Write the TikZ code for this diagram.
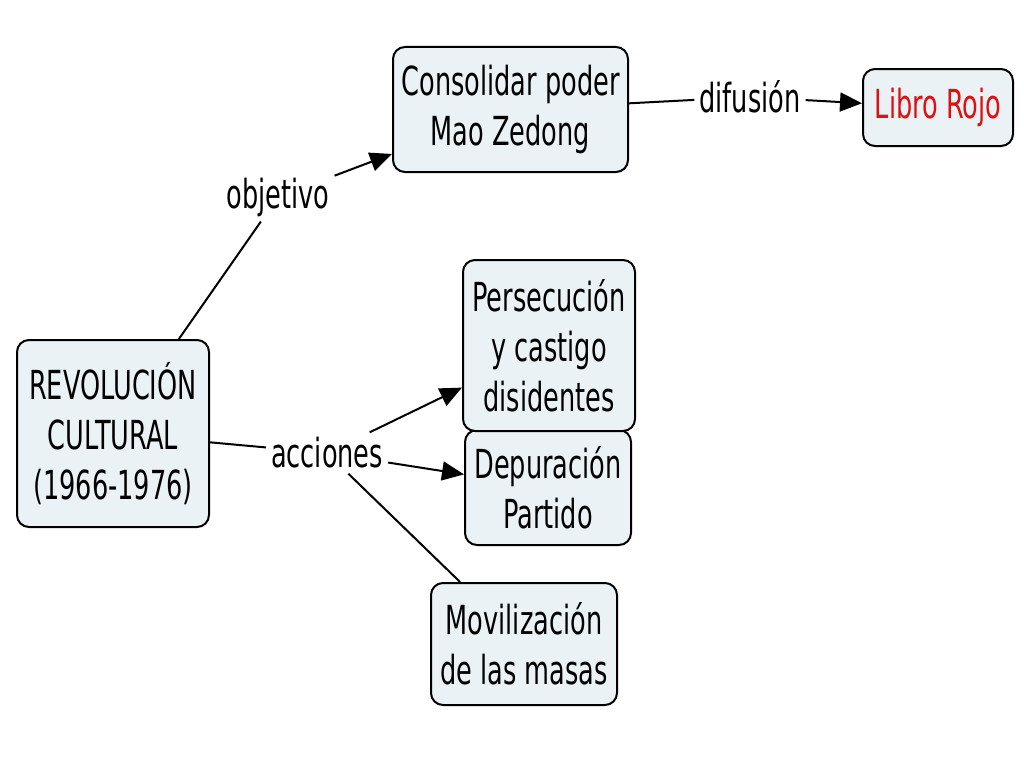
\documentclass[tikz,border=0pt]{standalone}
\usepackage{fontspec}
\setmainfont{DejaVu Sans}[FakeStretch=0.64]
\usetikzlibrary{arrows.meta, positioning}
\definecolor{boxfill}{RGB}{235,242,245}
\definecolor{rojo}{RGB}{222,16,16}
\tikzstyle{concept} = [rectangle, rounded corners=12pt, line width=2pt, draw=black, fill=boxfill, align=center, inner sep=0pt, font=\fontsize{40pt}{50pt}\selectfont]
\tikzstyle{linkword} = [inner sep=5pt, font=\fontsize{40pt}{50pt}\selectfont]
\tikzstyle{link} = [line width=2pt]
\tikzstyle{arrow} = [line width=2pt, -{Triangle[length=22pt, width=19pt]}]

\begin{document}
\begin{tikzpicture}[x=1pt, y=-1pt]
		\useasboundingbox (0,0) rectangle (1024,768);
		\node (Revolucion) [concept, minimum width=192pt, minimum height=187pt] at (113,433.5) {REVOLUCIÓN\\ CULTURAL\\ (1966-1976)};
		\node (Consolidar) [concept, minimum width=235pt, minimum height=125pt] at (510.5,109.5) {Consolidar poder\\ Mao Zedong};
		\node (LibroRojo) [concept, minimum width=150pt, minimum height=77pt, text=rojo] at (938,107.5) {Libro Rojo};
		\node (Depuracion) [concept, minimum width=166pt, minimum height=115pt] at (548,487.5) {Depuración\\ Partido};
		\node (Persecucion) [concept, minimum width=172pt, minimum height=171pt] at (549,345.5) {Persecución\\ y castigo\\ disidentes};
		\node (Movilizacion) [concept, minimum width=186pt, minimum height=122pt] at (524,644) {Movilización\\ de las masas};

		\node (Objetivo) [linkword] at (278,197) {objetivo};
		\node (Difusion) [linkword] at (750,97) {difusión};
		\node (Acciones) [linkword] at (327,453) {acciones};

		\draw [link] (Revolucion) -- (Objetivo);
		\draw [arrow] (Objetivo) -- (Consolidar);
		\draw [link] (Consolidar) -- (Difusion);
		\draw [arrow] (Difusion) -- (LibroRojo);
		\draw [link] (Revolucion) -- (Acciones);
		\draw [arrow] (Acciones) -- (Persecucion);
		\draw [arrow] (Acciones) -- (Depuracion);
		\draw [link] (Acciones) -- (Movilizacion);
\end{tikzpicture}
\end{document}
